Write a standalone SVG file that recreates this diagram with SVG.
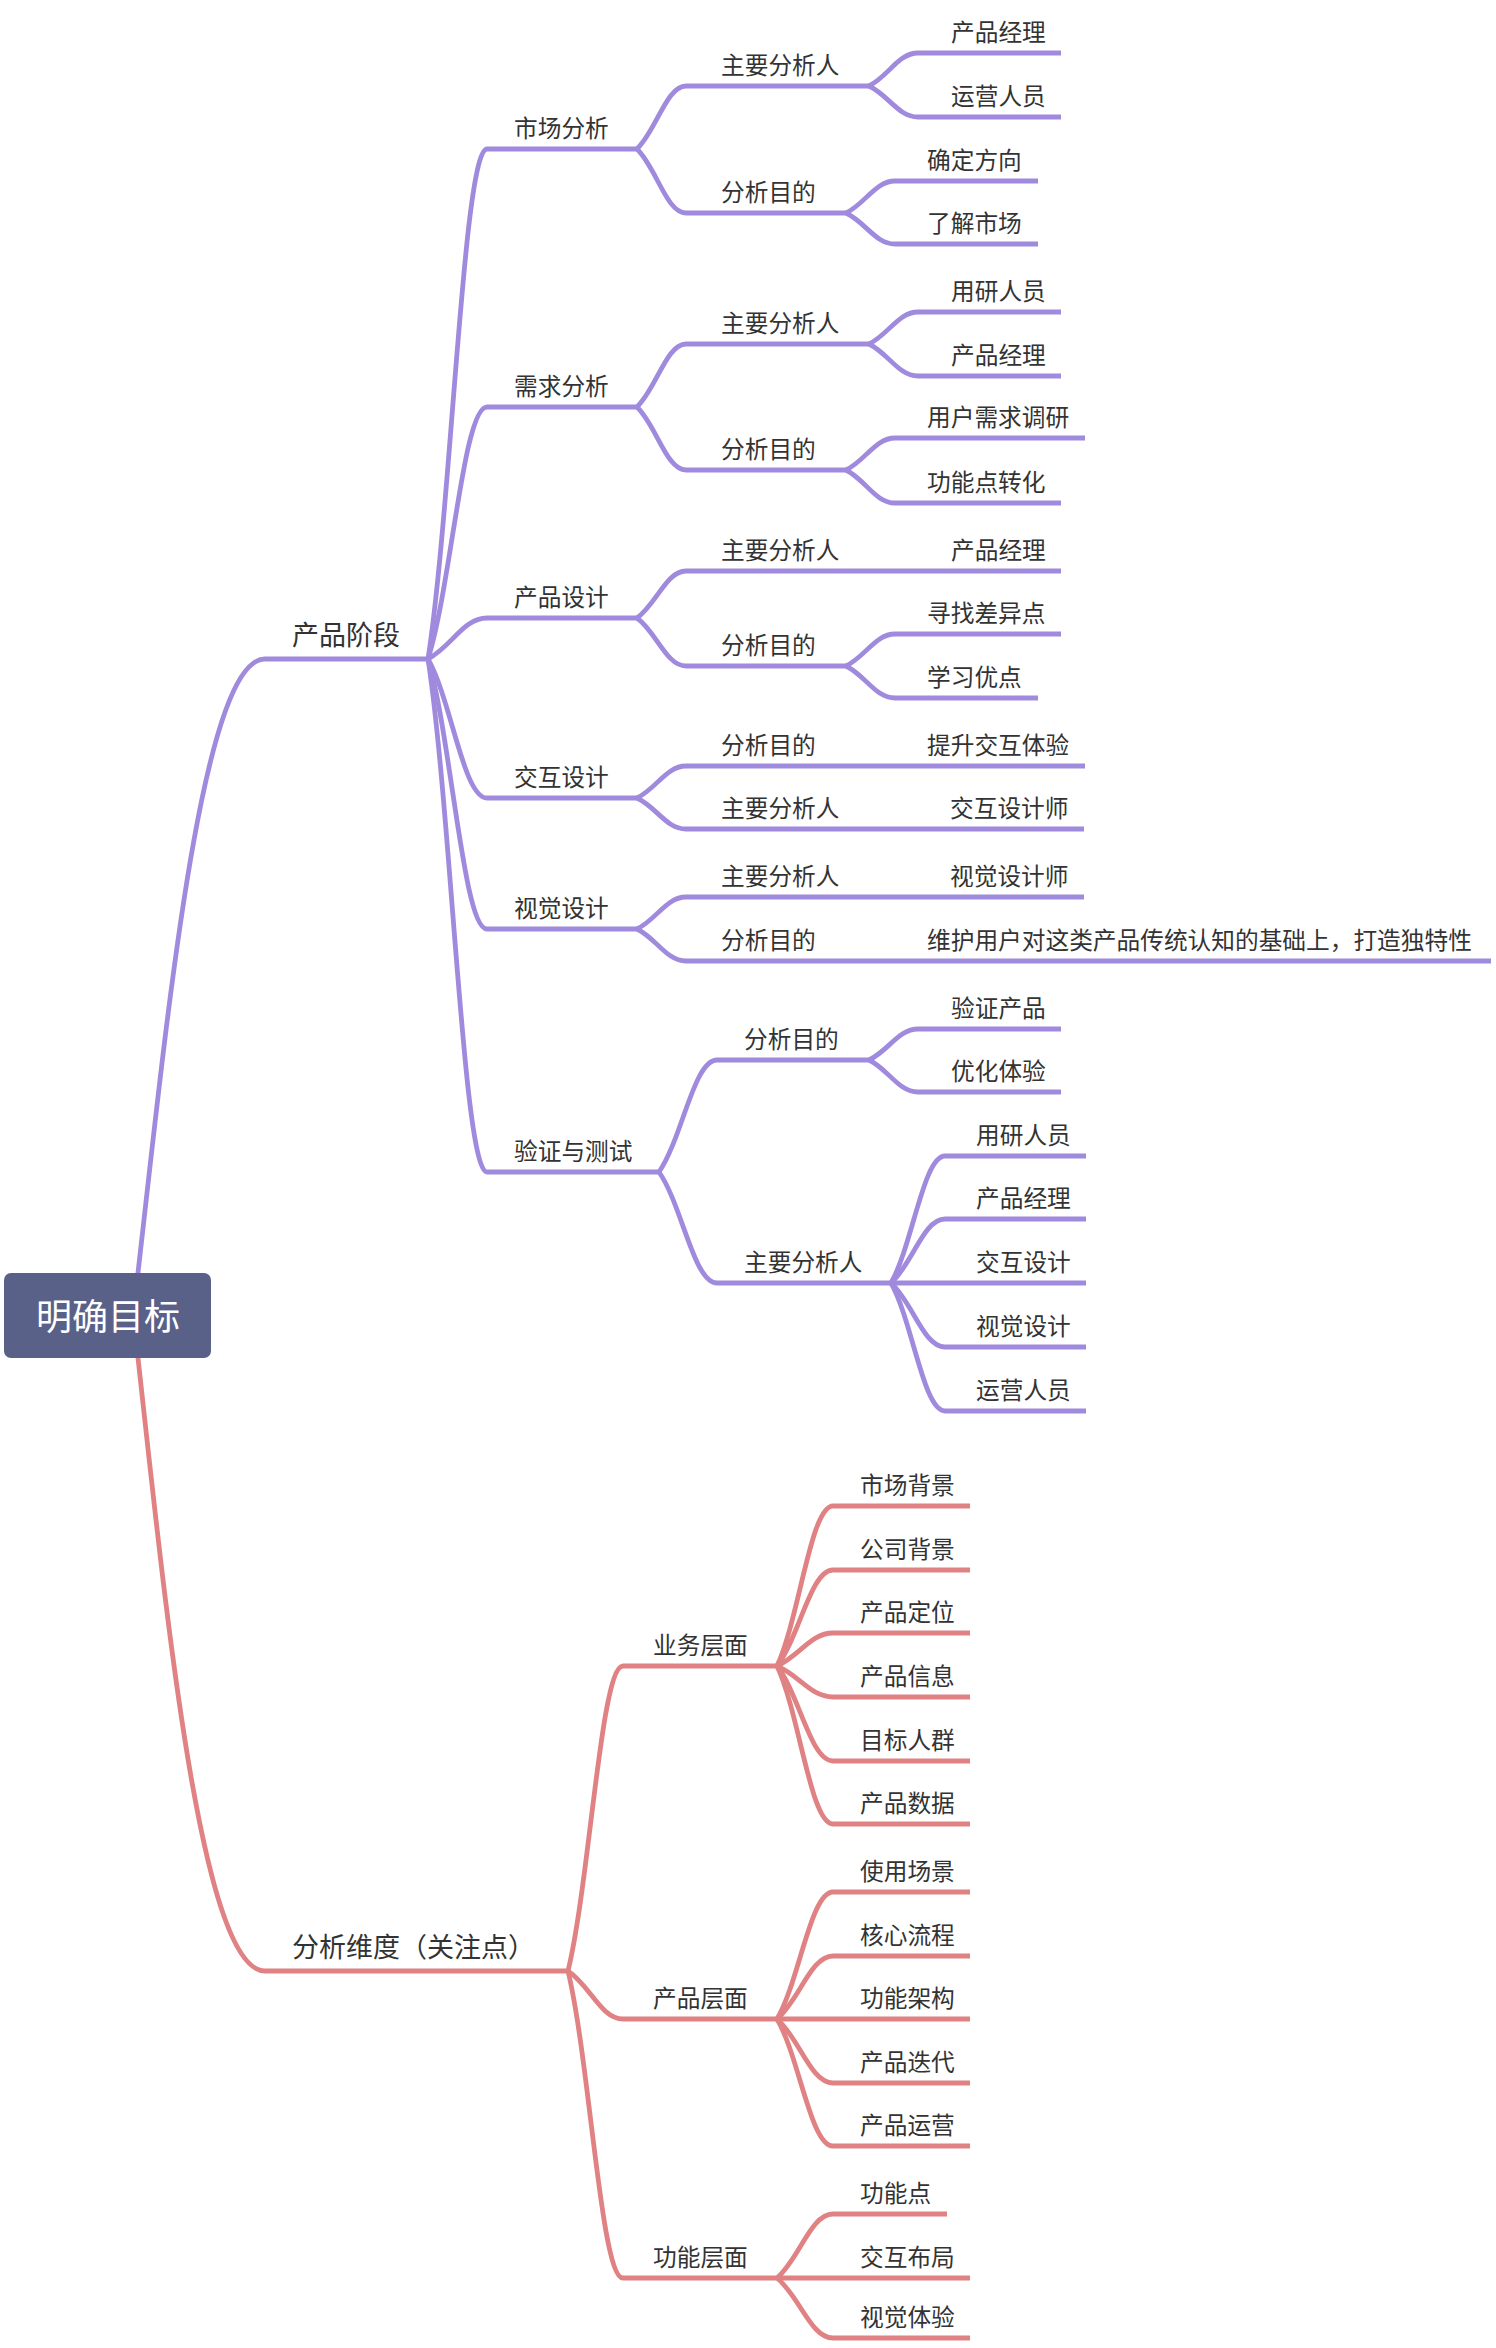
<svg xmlns="http://www.w3.org/2000/svg" width="1496" height="2348" viewBox="0 0 1496 2348">
<style>
.p{fill:none;stroke:#a08ade;stroke-width:4.8;stroke-linecap:butt}
.r{fill:none;stroke:#e08283;stroke-width:4.8;stroke-linecap:butt}
text{font-family:"Noto Sans CJK SC","Noto Sans",sans-serif;fill:#333;font-size:23.7px}
.l1{font-size:27px}
.root{font-size:36px;fill:#fff;text-anchor:middle}
</style>
<rect width="1496" height="2348" fill="#fff"/>
<g id="connectors">
<path class="p" d="M136 1290 C165 1040 200 659 265 659 H428"/>
<path class="r" d="M136 1340 C165 1600 200 1971 265 1971 H568"/>
<path class="p" d="M428 659 C451.6 506 463.4 149 487 149 H637"/>
<path class="p" d="M428 659 C451.6 583.4 463.4 407 487 407 H637"/>
<path class="p" d="M428 659 C451.6 646.7 463.4 618 487 618 H637"/>
<path class="p" d="M428 659 C451.6 700.7 463.4 798 487 798 H637"/>
<path class="p" d="M428 659 C451.6 740 463.4 929 487 929 H637"/>
<path class="p" d="M428 659 C451.6 812.9 463.4 1172 487 1172 H659"/>
<path class="p" d="M637 149 C656.6 130.1 666.4 86 686 86 H869"/>
<path class="p" d="M637 149 C656.6 168.2 666.4 213 686 213 H846"/>
<path class="p" d="M637 407 C656.6 388.1 666.4 344 686 344 H869"/>
<path class="p" d="M637 407 C656.6 425.9 666.4 470 686 470 H846"/>
<path class="p" d="M637 618 C656.6 603.9 666.4 571 686 571 H1061"/>
<path class="p" d="M637 618 C656.6 632.4 666.4 666 686 666 H846"/>
<path class="p" d="M637 798 C656.6 788.4 666.4 766 686 766 H1085"/>
<path class="p" d="M637 798 C656.6 807.3 666.4 829 686 829 H1084"/>
<path class="p" d="M637 929 C656.6 919.4 666.4 897 686 897 H1084"/>
<path class="p" d="M637 929 C656.6 938.6 666.4 961 686 961 H1491"/>
<path class="p" d="M659 1172 C682.2 1138.4 693.8 1060 717 1060 H869"/>
<path class="p" d="M659 1172 C682.2 1205.3 693.8 1283 717 1283 H891"/>
<path class="p" d="M869 86 C888.6 76.1 898.4 53 918 53 H1061"/>
<path class="p" d="M869 86 C888.6 95.3 898.4 117 918 117 H1061"/>
<path class="p" d="M846 213 C865.6 203.4 875.4 181 895 181 H1038"/>
<path class="p" d="M846 213 C865.6 222.3 875.4 244 895 244 H1038"/>
<path class="p" d="M869 344 C888.6 334.4 898.4 312 918 312 H1061"/>
<path class="p" d="M869 344 C888.6 353.6 898.4 376 918 376 H1061"/>
<path class="p" d="M846 470 C865.6 460.4 875.4 438 895 438 H1085"/>
<path class="p" d="M846 470 C865.6 479.9 875.4 503 895 503 H1061"/>
<path class="p" d="M846 666 C865.6 656.4 875.4 634 895 634 H1061"/>
<path class="p" d="M846 666 C865.6 675.6 875.4 698 895 698 H1038"/>
<path class="p" d="M869 1060 C888.6 1050.7 898.4 1029 918 1029 H1061"/>
<path class="p" d="M869 1060 C888.6 1069.6 898.4 1092 918 1092 H1061"/>
<path class="p" d="M891 1283 C912.6 1244.9 923.4 1156 945 1156 H1086"/>
<path class="p" d="M891 1283 C912.6 1263.8 923.4 1219 945 1219 H1086"/>
<path class="p" d="M891 1283 H1086"/>
<path class="p" d="M891 1283 C912.6 1302.2 923.4 1347 945 1347 H1086"/>
<path class="p" d="M891 1283 C912.6 1321.4 923.4 1411 945 1411 H1086"/>
<path class="r" d="M568 1971 C590 1879.5 601 1666 623 1666 H777"/>
<path class="r" d="M568 1971 C590 1985.4 601 2019 623 2019 H777"/>
<path class="r" d="M568 1971 C590 2063.1 601 2278 623 2278 H777"/>
<path class="r" d="M777 1666 C799.4 1618 810.6 1506 833 1506 H970"/>
<path class="r" d="M777 1666 C799.4 1637.2 810.6 1570 833 1570 H970"/>
<path class="r" d="M777 1666 C799.4 1656.1 810.6 1633 833 1633 H970"/>
<path class="r" d="M777 1666 C799.4 1675.3 810.6 1697 833 1697 H970"/>
<path class="r" d="M777 1666 C799.4 1694.5 810.6 1761 833 1761 H970"/>
<path class="r" d="M777 1666 C799.4 1713.4 810.6 1824 833 1824 H970"/>
<path class="r" d="M777 2019 C799.4 1980.9 810.6 1892 833 1892 H970"/>
<path class="r" d="M777 2019 C799.4 2000.1 810.6 1956 833 1956 H970"/>
<path class="r" d="M777 2019 H970"/>
<path class="r" d="M777 2019 C799.4 2038.2 810.6 2083 833 2083 H970"/>
<path class="r" d="M777 2019 C799.4 2057.1 810.6 2146 833 2146 H970"/>
<path class="r" d="M777 2278 C799.4 2258.8 810.6 2214 833 2214 H947"/>
<path class="r" d="M777 2278 H970"/>
<path class="r" d="M777 2278 C799.4 2296 810.6 2338 833 2338 H970"/>
</g>
<g id="root"><rect x="4" y="1273" width="207" height="85" rx="7" fill="#5a6189"/><text class="root" x="108" y="1330">明确目标</text></g>
<g id="n-chanpinjieduan"><text class="l1" x="292" y="645">产品阶段</text></g>
<g id="n-fenxiweidu"><text class="l1" x="292" y="1957">分析维度（关注点）</text></g>
<g id="n-shichang"><text x="514" y="136.5">市场分析</text></g>
<g id="n-shichang-ren"><text x="721" y="73.5">主要分析人</text></g>
<g id="n-shichang-ren-1"><text x="951" y="40.5">产品经理</text></g>
<g id="n-shichang-ren-2"><text x="951" y="104.5">运营人员</text></g>
<g id="n-shichang-mudi"><text x="721" y="200.5">分析目的</text></g>
<g id="n-shichang-mudi-1"><text x="927" y="168.5">确定方向</text></g>
<g id="n-shichang-mudi-2"><text x="927" y="231.5">了解市场</text></g>
<g id="n-xuqiu"><text x="514" y="394.5">需求分析</text></g>
<g id="n-xuqiu-ren"><text x="721" y="331.5">主要分析人</text></g>
<g id="n-xuqiu-ren-1"><text x="951" y="299.5">用研人员</text></g>
<g id="n-xuqiu-ren-2"><text x="951" y="363.5">产品经理</text></g>
<g id="n-xuqiu-mudi"><text x="721" y="457.5">分析目的</text></g>
<g id="n-xuqiu-mudi-1"><text x="927" y="425.5">用户需求调研</text></g>
<g id="n-xuqiu-mudi-2"><text x="927" y="490.5">功能点转化</text></g>
<g id="n-chanpin"><text x="514" y="605.5">产品设计</text></g>
<g id="n-chanpin-ren"><text x="721" y="558.5">主要分析人</text></g>
<g id="n-chanpin-ren-1"><text x="951" y="558.5">产品经理</text></g>
<g id="n-chanpin-mudi"><text x="721" y="653.5">分析目的</text></g>
<g id="n-chanpin-mudi-1"><text x="927" y="621.5">寻找差异点</text></g>
<g id="n-chanpin-mudi-2"><text x="927" y="685.5">学习优点</text></g>
<g id="n-jiaohu"><text x="514" y="785.5">交互设计</text></g>
<g id="n-jiaohu-mudi"><text x="721" y="753.5">分析目的</text></g>
<g id="n-jiaohu-mudi-1"><text x="927" y="753.5">提升交互体验</text></g>
<g id="n-jiaohu-ren"><text x="721" y="816.5">主要分析人</text></g>
<g id="n-jiaohu-ren-1"><text x="950" y="816.5">交互设计师</text></g>
<g id="n-shijue"><text x="514" y="916.5">视觉设计</text></g>
<g id="n-shijue-ren"><text x="721" y="884.5">主要分析人</text></g>
<g id="n-shijue-ren-1"><text x="950" y="884.5">视觉设计师</text></g>
<g id="n-shijue-mudi"><text x="721" y="948.5">分析目的</text></g>
<g id="n-shijue-mudi-1"><text x="927" y="948.5">维护用户对这类产品传统认知的基础上，打造独特性</text></g>
<g id="n-yanzheng"><text x="514" y="1159.5">验证与测试</text></g>
<g id="n-yanzheng-mudi"><text x="744" y="1047.5">分析目的</text></g>
<g id="n-yanzheng-mudi-1"><text x="951" y="1016.5">验证产品</text></g>
<g id="n-yanzheng-mudi-2"><text x="951" y="1079.5">优化体验</text></g>
<g id="n-yanzheng-ren"><text x="744" y="1270.5">主要分析人</text></g>
<g id="n-yanzheng-ren-1"><text x="976" y="1143.5">用研人员</text></g>
<g id="n-yanzheng-ren-2"><text x="976" y="1206.5">产品经理</text></g>
<g id="n-yanzheng-ren-3"><text x="976" y="1270.5">交互设计</text></g>
<g id="n-yanzheng-ren-4"><text x="976" y="1334.5">视觉设计</text></g>
<g id="n-yanzheng-ren-5"><text x="976" y="1398.5">运营人员</text></g>
<g id="n-yewu"><text x="653" y="1653.5">业务层面</text></g>
<g id="n-yewu-1"><text x="860" y="1493.5">市场背景</text></g>
<g id="n-yewu-2"><text x="860" y="1557.5">公司背景</text></g>
<g id="n-yewu-3"><text x="860" y="1620.5">产品定位</text></g>
<g id="n-yewu-4"><text x="860" y="1684.5">产品信息</text></g>
<g id="n-yewu-5"><text x="860" y="1748.5">目标人群</text></g>
<g id="n-yewu-6"><text x="860" y="1811.5">产品数据</text></g>
<g id="n-cpcm"><text x="653" y="2006.5">产品层面</text></g>
<g id="n-cpcm-1"><text x="860" y="1879.5">使用场景</text></g>
<g id="n-cpcm-2"><text x="860" y="1943.5">核心流程</text></g>
<g id="n-cpcm-3"><text x="860" y="2006.5">功能架构</text></g>
<g id="n-cpcm-4"><text x="860" y="2070.5">产品迭代</text></g>
<g id="n-cpcm-5"><text x="860" y="2133.5">产品运营</text></g>
<g id="n-gncm"><text x="653" y="2265.5">功能层面</text></g>
<g id="n-gncm-1"><text x="860" y="2201.5">功能点</text></g>
<g id="n-gncm-2"><text x="860" y="2265.5">交互布局</text></g>
<g id="n-gncm-3"><text x="860" y="2325.5">视觉体验</text></g>
</svg>
